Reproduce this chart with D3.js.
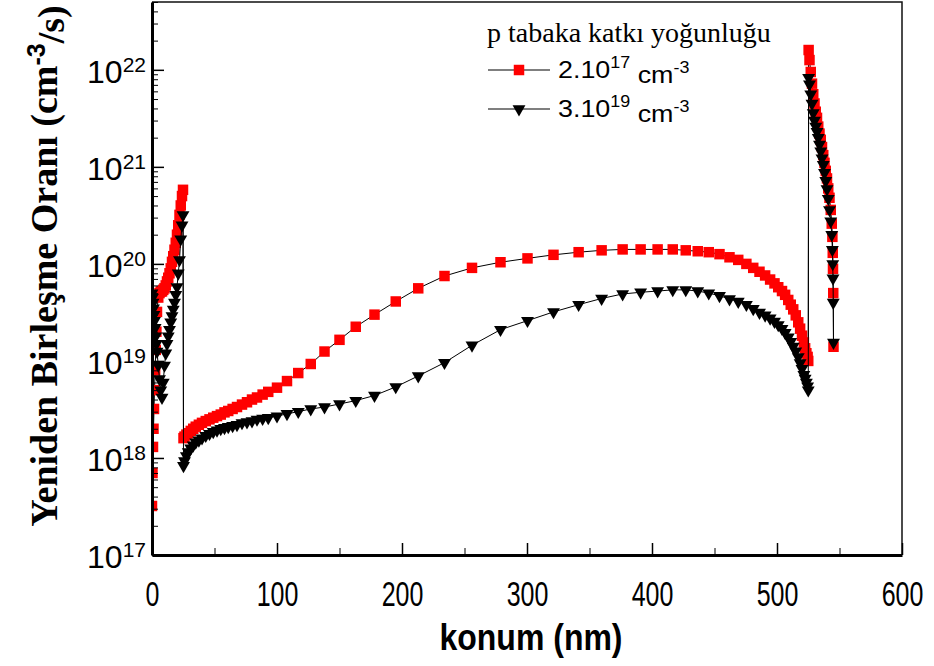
<!DOCTYPE html>
<html>
<head>
<meta charset="utf-8">
<script src="https://cdn.jsdelivr.net/npm/d3@7/dist/d3.min.js"></script>
<style>
  body { margin: 0; background: #fff; }
  text { fill: #000; }
</style>
</head>
<body>
<div id="chart"></div>
<script>
// konum (nm) - ortak ag noktalari
var konum = [
  0, 0.4, 0.8, 1.2, 1.6, 2, 2.5, 3, 3.5, 4, 5, 6, 7, 8, 9, 10, 11, 12, 13, 14, 15, 16, 17, 18, 19, 20, 21, 22, 23, 24, 24.8,
  25.2, 26, 27.5, 29, 31, 33, 35, 37.5, 40, 43, 46, 49, 52, 55, 58, 61, 64.5, 68, 72, 76, 80, 84, 88.5,
  93, 100, 108, 117, 127, 138, 150, 163, 178, 195, 213, 234, 256, 278.8, 300.4, 321.2, 341.3,
  359.7, 376.5, 390.9, 404.5, 416.6, 427, 436.6, 445.4, 454, 462, 469, 475.5, 481, 486, 490.5, 494.5, 498,
  501, 504, 506.5, 509, 511, 513, 515, 517, 518.5, 520, 521.5, 522.5, 523.5, 524.5, 525,
  525.3, 526, 527, 528, 529, 530, 531, 532, 533, 534, 535, 536, 537, 538, 539, 540, 541, 542, 543, 543.8,
  544.3, 544.6, 544.8, 545, 545.2
];

// p tabaka 2.10^17 cm^-3 (kirmizi kare)
var oranDusuk = [
  3.2e17, 7.0e17, 1.3e18, 2.0e18, 3.2e18, 5.0e18, 8.0e18, 1.3e19, 2.0e19, 3.2e19, 4.5e19, 5.0e19, 5.2e19, 5.2e19,
  5.4e19, 5.6e19, 6.0e19, 6.6e19, 7.2e19, 8.0e19, 9.0e19, 1.05e20, 1.2e20, 1.4e20, 1.65e20, 2.0e20, 2.5e20, 3.2e20,
  4.0e20, 5.0e20, 5.8e20,
  1.6e18, 1.66e18, 1.74e18, 1.8e18, 1.9e18, 2.0e18, 2.1e18, 2.2e18, 2.3e18, 2.4e18, 2.5e18, 2.6e18, 2.7e18,
  2.8e18, 2.95e18, 3.05e18, 3.2e18, 3.35e18, 3.55e18, 3.75e18, 4.0e18, 4.2e18, 4.5e18,
  4.8e18, 5.3e18, 6.2e18, 7.5e18, 9.3e18, 1.25e19, 1.65e19, 2.25e19, 3.0e19, 4.1e19, 5.6e19, 7.5e19, 9.1e19,
  1.04e20, 1.14e20, 1.24e20, 1.32e20,
  1.38e20, 1.41e20, 1.41e20, 1.41e20, 1.41e20, 1.38e20, 1.35e20, 1.32e20, 1.26e20, 1.17e20, 1.1e20, 1.0e20,
  9.1e19, 8.3e19, 7.6e19, 6.9e19, 6.3e19,
  5.75e19, 5.25e19, 4.8e19, 4.25e19, 3.8e19, 3.4e19, 2.95e19, 2.5e19, 2.15e19, 1.82e19, 1.55e19, 1.35e19,
  1.2e19, 1.1e19, 1.0e19,
  1.6e22, 1.26e22, 9.5e21, 7.2e21, 5.6e21, 4.5e21, 3.7e21, 3.2e21, 2.6e21, 2.2e21, 1.9e21, 1.6e21, 1.32e21,
  1.1e21, 9.1e20, 7.6e20, 6.0e20, 4.8e20, 3.6e20, 2.6e20,
  1.9e20, 1.3e20, 8.9e19, 5.0e19, 1.4e19
];

// p tabaka 3.10^19 cm^-3 (siyah ucgen)
var oranYuksek = [
  5.0e19, 4.5e19, 4.0e19, 3.5e19, 3.0e19, 2.6e19, 2.2e19, 1.8e19, 1.5e19, 1.25e19, 9.0e18, 6.5e18, 5.0e18, 4.2e18,
  6.0e18, 9.0e18, 1.2e19, 1.5e19, 1.8e19, 2.1e19, 2.5e19, 2.9e19, 3.4e19, 4.0e19, 4.8e19, 5.8e19, 8.0e19, 1.1e20,
  1.8e20, 2.5e20, 3.2e20,
  8.3e17, 9.3e17, 1.05e18, 1.15e18, 1.26e18, 1.35e18, 1.45e18, 1.52e18, 1.6e18, 1.7e18, 1.78e18, 1.86e18,
  1.93e18, 2.0e18, 2.05e18, 2.1e18, 2.15e18, 2.2e18, 2.3e18, 2.35e18, 2.4e18, 2.5e18, 2.55e18,
  2.6e18, 2.7e18, 2.85e18, 3.0e18, 3.2e18, 3.35e18, 3.6e18, 3.9e18, 4.4e18, 5.4e18, 7.0e18, 9.6e18, 1.45e19,
  2.1e19, 2.6e19, 3.2e19, 3.8e19,
  4.4e19, 4.9e19, 5.1e19, 5.25e19, 5.4e19, 5.4e19, 5.25e19, 5.0e19, 4.7e19, 4.35e19, 4.1e19, 3.8e19,
  3.45e19, 3.15e19, 2.95e19, 2.75e19, 2.55e19,
  2.35e19, 2.15e19, 1.95e19, 1.75e19, 1.58e19, 1.41e19, 1.26e19, 1.1e19, 9.5e18, 8.3e18, 7.2e18, 6.6e18,
  6.0e18, 5.5e18, 5.0e18,
  8.3e21, 7.1e21, 5.6e21, 4.5e21, 3.6e21, 3.0e21, 2.6e21, 2.3e21, 2.0e21, 1.7e21, 1.45e21, 1.23e21, 1.05e21,
  8.7e20, 7.2e20, 5.9e20, 4.7e20, 3.6e20, 2.75e20, 2.0e20,
  1.4e20, 1.0e20, 7.1e19, 4.0e19, 1.55e19
];

var xTicks = [0, 100, 200, 300, 400, 500, 600];
var xMinorTicks = [50, 150, 250, 350, 450, 550];
var yExponents = [17, 18, 19, 20, 21, 22];
var legendLabels = ["2.10", "3.10"];
var legendExponents = ["17", "19"];

var W = 934, H = 666;
var svg = d3.select("#chart").append("svg")
    .attr("width", W)
    .attr("height", H)
    .style("font-family", "'Liberation Sans', Arial, sans-serif");

var x = d3.scaleLinear().domain([0, 600]).range([152, 902]);
var y = d3.scaleLog().domain([1e17, 5e22]).range([555, 2]);

// minor ticks for log axis
var yMinorTicks = [];
yExponents.forEach(function(e){
  for (var m = 2; m <= 9; m++) {
    var v = m * Math.pow(10, e);
    if (v <= 5e22) yMinorTicks.push(v);
  }
});

svg.append("clipPath").attr("id", "plotclip")
  .append("rect")
    .attr("x", 153).attr("y", 2)
    .attr("width", 902 - 153).attr("height", 555 - 2);

// frame top and right (thin)
svg.append("path")
    .attr("d", "M152,2H902V555")
    .attr("fill", "none")
    .attr("stroke", "#111")
    .attr("stroke-width", 1.5);

var plot = svg.append("g").attr("clip-path", "url(#plotclip)");

var dusuk = konum.map(function(k, i){ return [k, oranDusuk[i]]; });
var yuksek = konum.map(function(k, i){ return [k, oranYuksek[i]]; });

var line = d3.line()
    .x(function(d){ return x(d[0]); })
    .y(function(d){ return y(d[1]); });

var square = d3.symbol().type(d3.symbolSquare).size(110);
var triangle = d3.symbol().type(d3.symbolTriangle).size(72);

// red series
plot.append("path").datum(dusuk)
    .attr("d", line).attr("fill", "none")
    .attr("stroke", "#000").attr("stroke-width", 1);
plot.selectAll(".sq").data(dusuk).enter().append("path")
    .attr("class", "sq")
    .attr("d", square)
    .attr("transform", function(d){ return "translate(" + x(d[0]) + "," + y(d[1]) + ")"; })
    .attr("fill", "#ff0000");

// black series
plot.append("path").datum(yuksek)
    .attr("d", line).attr("fill", "none")
    .attr("stroke", "#000").attr("stroke-width", 1);
plot.selectAll(".tri").data(yuksek).enter().append("path")
    .attr("class", "tri")
    .attr("d", triangle)
    .attr("transform", function(d){ return "translate(" + x(d[0]) + "," + y(d[1]) + ") rotate(180)"; })
    .attr("fill", "#000");

// x axis
var xAxis = svg.append("g").attr("transform", "translate(0,555)")
    .call(d3.axisBottom(x).tickValues(xTicks).tickSizeInner(-12).tickSizeOuter(0).tickPadding(0));
svg.append("g").attr("transform", "translate(0,555)")
    .call(d3.axisBottom(x).tickValues(xMinorTicks).tickSizeInner(-7).tickSizeOuter(0).tickFormat(""))
    .select(".domain").remove();
xAxis.select(".domain").attr("stroke-width", 3);
xAxis.selectAll(".tick line").attr("stroke-width", 1.5);
xAxis.selectAll(".tick text")
    .attr("y", 0).attr("dy", null)
    .attr("transform", "translate(0,51) scale(1,1.38)")
    .style("font-size", "25px");

// y axis
var yAxis = svg.append("g").attr("transform", "translate(152,0)")
    .call(d3.axisLeft(y)
      .tickValues(yExponents.map(function(e){ return Math.pow(10, e); }))
      .tickSizeInner(-12).tickSizeOuter(0).tickPadding(6)
      .tickFormat(""));
svg.append("g").attr("transform", "translate(152,0)")
    .call(d3.axisLeft(y).tickValues(yMinorTicks).tickSizeInner(-6).tickSizeOuter(0).tickFormat(""))
    .select(".domain").remove();
yAxis.select(".domain").attr("stroke-width", 3);
yAxis.selectAll(".tick line").attr("stroke-width", 1.5);
yAxis.selectAll(".tick text").each(function(d, i){
  var t = d3.select(this).attr("dy", "0.4em").style("font-size", "32px");
  t.append("tspan").text("10");
  t.append("tspan").attr("dy", "-0.55em").style("font-size", "21px").text(yExponents[i]);
});
svg.selectAll(".tick line, .domain").attr("stroke", "#000");

// axis titles
svg.append("text")
    .attr("transform", "translate(531,650) scale(1,1.15)")
    .attr("text-anchor", "middle")
    .style("font-size", "32px")
    .style("font-weight", "bold")
    .text("konum (nm)");

var yTitle = svg.append("text")
    .attr("transform", "translate(57,266) rotate(-90)")
    .attr("text-anchor", "middle")
    .style("font-family", "'Liberation Serif', 'Times New Roman', serif")
    .style("font-size", "38px")
    .style("font-weight", "bold");
yTitle.append("tspan").text("Yeniden Birleşme Oranı (cm");
yTitle.append("tspan").attr("dy", "-0.5em")
    .style("font-family", "'Liberation Sans', Arial, sans-serif")
    .style("font-size", "25px").text("-3");
yTitle.append("tspan").attr("dy", "0.5em").text("/s)");

// legend
svg.append("text")
    .attr("x", 487).attr("y", 42)
    .style("font-family", "'Liberation Serif', 'Times New Roman', serif")
    .style("font-size", "28px")
    .text("p tabaka katkı yoğunluğu");

var legendY = [70, 109];
var legend = svg.selectAll(".leg").data(legendLabels).enter().append("g")
    .attr("class", "leg")
    .attr("transform", function(d, i){ return "translate(0," + legendY[i] + ")"; });
legend.append("line")
    .attr("x1", 488).attr("x2", 550)
    .attr("stroke", "#000").attr("stroke-width", 1.2);
legend.append("path")
    .attr("d", function(d, i){ return i === 0 ? square() : triangle(); })
    .attr("transform", function(d, i){ return "translate(519,0)" + (i === 0 ? "" : " rotate(180)"); })
    .attr("fill", function(d, i){ return i === 0 ? "#ff0000" : "#000"; });
var lt = legend.append("text")
    .attr("transform", "translate(558,8) scale(1.12,1)")
    .style("font-size", "24px");
lt.append("tspan").text(function(d){ return d; });
lt.append("tspan").attr("dy", "-0.6em").style("font-size", "16px")
    .text(function(d, i){ return legendExponents[i]; });
lt.append("tspan").attr("dy", "0.6em").text(" cm");
lt.append("tspan").attr("dy", "-0.6em").style("font-size", "16px").text("-3");
</script>
</body>
</html>
